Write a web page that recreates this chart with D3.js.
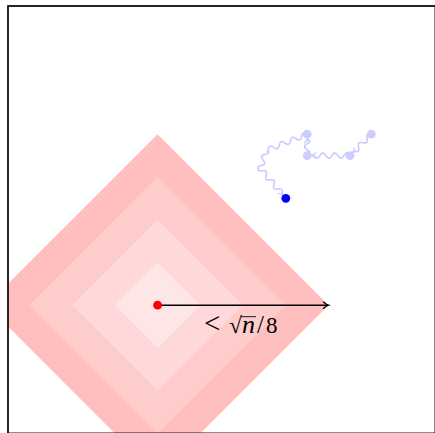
<!DOCTYPE html>
<html>
<head>
<meta charset="utf-8">
<script src="https://cdn.jsdelivr.net/npm/d3@7"></script>
<style>
  html, body { margin: 0; padding: 0; background: #fff; }
  svg { display: block; }
</style>
</head>
<body>
<div id="chart"></div>
<script>
// grid units, frame is 20 x 20
var frameDomain = [0, 20]
var centerPt = [7, 6]
var diamondRadii = [8, 6, 4, 2]
var diamondFills = ["#ffbfbf", "#ffcccc", "#ffd9d9", "#ffe6e6"]
var arrowEnd = [15, 6]
var pastPoints = [[17, 14], [16, 13], [14, 13], [14, 14]]
var walkSteps = [
  [[17, 14], [16, 13]],
  [[16, 13], [14, 13]],
  [[14, 13], [14, 14]],
  [[14, 14], [12.1, 13.25], [11.8, 12.4], [13, 11]]
]
var currentPt = [13, 11]
var labelParts = ["<", "\u221A", "n", "/", "8"]

var W = 435, H = 433

var x = d3.scaleLinear().domain(frameDomain).range([8, 435.4])
var y = d3.scaleLinear().domain(frameDomain).range([433.4, 6])

var svg = d3.select("#chart").append("svg")
  .attr("width", W)
  .attr("height", H)

svg.append("defs").append("clipPath")
  .attr("id", "frame-clip")
  .append("rect")
  .attr("x", x(0)).attr("y", y(20))
  .attr("width", x(20) - x(0)).attr("height", y(0) - y(20))

// nested diamonds around the red point
var diamonds = svg.append("g").attr("clip-path", "url(#frame-clip)")
diamondRadii.forEach(function(r, i) {
  var cx = centerPt[0], cy = centerPt[1]
  var pts = [[cx + r, cy], [cx, cy + r], [cx - r, cy], [cx, cy - r]]
  diamonds.append("path")
    .attr("d", "M" + pts.map(function(p) { return x(p[0]) + "," + y(p[1]) }).join("L") + "Z")
    .attr("fill", diamondFills[i])
})

// snake line along a polyline (screen coords)
function snake(pts, trim, amp, wave) {
  var segs = [], total = 0
  for (var i = 0; i < pts.length - 1; i++) {
    var dx = pts[i + 1][0] - pts[i][0], dy = pts[i + 1][1] - pts[i][1]
    var len = Math.sqrt(dx * dx + dy * dy)
    segs.push({ p: pts[i], ux: dx / len, uy: dy / len, len: len, start: total })
    total += len
  }
  var end = total - trim
  function at(s) {
    var sg = segs[segs.length - 1]
    for (var j = 0; j < segs.length; j++) {
      if (s <= segs[j].start + segs[j].len) { sg = segs[j]; break }
    }
    var t = s - sg.start
    return { x: sg.p[0] + sg.ux * t, y: sg.p[1] + sg.uy * t, ux: sg.ux, uy: sg.uy }
  }
  var out = []
  for (var s = 0; s <= end; s += 0.5) {
    var q = at(s)
    var k = Math.min(1, s / 2, (end - s) / 2)
    var off = amp * k * Math.sin(2 * Math.PI * s / wave)
    out.push([q.x - q.uy * off, q.y + q.ux * off])
  }
  var last = at(end)
  out.push([last.x, last.y])
  return { d: "M" + out.map(function(p) { return p[0].toFixed(2) + "," + p[1].toFixed(2) }).join("L"), tip: last }
}

function arrowHead(tip, size, spread) {
  var bx = tip.x - tip.ux * size, by = tip.y - tip.uy * size
  var nx = -tip.uy, ny = tip.ux
  var mx = tip.x - tip.ux * size * 0.35, my = tip.y - tip.uy * size * 0.35
  return "M" + (bx + nx * spread) + "," + (by + ny * spread) +
    "Q" + (mx + nx * spread * 0.15) + "," + (my + ny * spread * 0.15) + " " + tip.x + "," + tip.y +
    "Q" + (mx - nx * spread * 0.15) + "," + (my - ny * spread * 0.15) + " " + (bx - nx * spread) + "," + (by - ny * spread)
}

// walk history
var walk = svg.append("g")
walkSteps.forEach(function(step) {
  var sp = step.map(function(p) { return [x(p[0]), y(p[1])] })
  var sn = snake(sp, 4.5, 2.6, 12)
  walk.append("path")
    .attr("d", sn.d)
    .attr("fill", "none")
    .attr("stroke", "#ccccff")
    .attr("stroke-width", 1.7)
    .attr("stroke-linejoin", "round")
  walk.append("path")
    .attr("d", arrowHead(sn.tip, 4.5, 3))
    .attr("fill", "none")
    .attr("stroke", "#ccccff")
    .attr("stroke-width", 1.3)
})

walk.selectAll("circle.past")
  .data(pastPoints)
  .enter()
  .append("circle")
  .attr("class", "past")
  .attr("cx", function(d) { return x(d[0]) })
  .attr("cy", function(d) { return y(d[1]) })
  .attr("r", 4.4)
  .attr("fill", "#ccccff")

svg.append("circle")
  .attr("cx", x(currentPt[0]))
  .attr("cy", y(currentPt[1]))
  .attr("r", 4.4)
  .attr("fill", "#0000ff")

// radius arrow
svg.append("line")
  .attr("x1", x(centerPt[0])).attr("y1", y(centerPt[1]))
  .attr("x2", x(arrowEnd[0]) - 0.5).attr("y2", y(arrowEnd[1]))
  .attr("stroke", "#000")
  .attr("stroke-width", 1.4)
svg.append("path")
  .attr("d", arrowHead({ x: x(arrowEnd[0]), y: y(arrowEnd[1]), ux: 1, uy: 0 }, 5.5, 3.5))
  .attr("fill", "none")
  .attr("stroke", "#000")
  .attr("stroke-width", 1.3)

svg.append("circle")
  .attr("cx", x(centerPt[0]))
  .attr("cy", y(centerPt[1]))
  .attr("r", 4.4)
  .attr("fill", "#ff0000")

// label  < sqrt(n)/8, spaced like TeX math
var fs = 23
var baseY = y(centerPt[1]) + 28
var label = svg.append("text")
  .attr("x", 204)
  .attr("y", baseY)
  .style("font-family", "'Liberation Serif', 'DejaVu Serif', serif")
  .style("font-size", fs + "px")
  .style("fill", "#000")
label.append("tspan").style("font-size", "29px").text(labelParts[0])
label.append("tspan").attr("dx", 9).text(labelParts[1])
label.append("tspan").attr("dx", 0).style("font-style", "italic").style("font-size", "26px").text(labelParts[2])
label.append("tspan").attr("dx", 2).style("font-size", "25px").text(labelParts[3])
label.append("tspan").attr("dx", 2).text(labelParts[4])

// vinculum over n
var node = label.node()
var sq = node.getExtentOfChar(1)
var nEnd = node.getEndPositionOfChar(2)
svg.append("line")
  .attr("x1", sq.x + sq.width - 1)
  .attr("x2", nEnd.x + 1)
  .attr("y1", baseY - 16.5)
  .attr("y2", baseY - 16.5)
  .attr("stroke", "#000")
  .attr("stroke-width", 0.9)

// frame
svg.append("rect")
  .attr("x", x(0)).attr("y", y(20))
  .attr("width", x(20) - x(0)).attr("height", y(0) - y(20))
  .attr("fill", "none")
  .attr("stroke", "#000")
  .attr("stroke-width", 1.7)
</script>
</body>
</html>
